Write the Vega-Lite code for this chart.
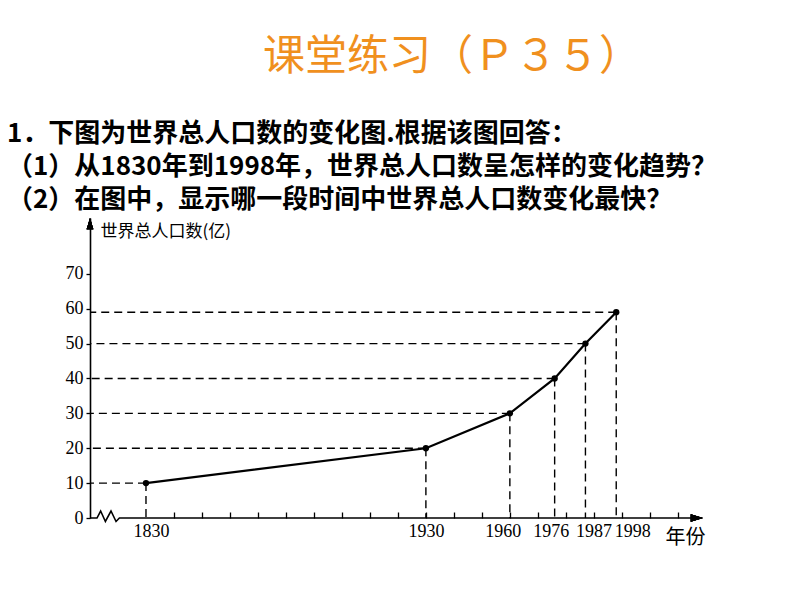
{
  "$schema": "https://vega.github.io/schema/vega-lite/v6.json",
  "background": "white",
  "padding": {"left": 7, "top": 36, "right": 5, "bottom": 5},
  "config": {"view": {"stroke": null}, "concat": {"spacing": 0}},
  "title": {
    "text": "课堂练习（Ｐ３５）",
    "anchor": "middle",
    "frame": "bounds",
    "dx": 90,
    "offset": 42,
    "font": "Noto Sans CJK SC",
    "fontSize": 42,
    "fontWeight": "normal",
    "color": "#f0901e"
  },
  "vconcat": [
    {
      "width": 613,
      "height": 300,
      "title": {
        "text": [
          "1．下图为世界总人口数的变化图.根据该图回答：",
          "（1）从1830年到1998年，世界总人口数呈怎样的变化趋势？",
          "（2）在图中，显示哪一段时间中世界总人口数变化最快？"
        ],
        "anchor": "start",
        "frame": "group",
        "dx": -83,
        "offset": 5,
        "font": "Noto Sans CJK SC",
        "fontSize": 26,
        "fontWeight": "bold",
        "lineHeight": 33,
        "color": "black"
      },
      "data": {
        "values": [
          {"year": 1830, "pop": 10},
          {"year": 1930, "pop": 20},
          {"year": 1960, "pop": 30},
          {"year": 1976, "pop": 40},
          {"year": 1987, "pop": 50},
          {"year": 1998, "pop": 59}
        ]
      },
      "encoding": {
        "x": {
          "field": "year",
          "type": "quantitative",
          "scale": {"domain": [1810, 2029], "nice": false, "zero": false},
          "axis": {
            "orient": "bottom",
            "values": [1830, 1840, 1850, 1860, 1870, 1880, 1890, 1900, 1910, 1920, 1930, 1940, 1950, 1960, 1970, 1976, 1980, 1987, 1990, 1998, 2000, 2010, 2020],
            "domain": false,
            "grid": false,
            "tickSize": -6,
            "tickColor": "black",
            "tickWidth": 1.3,
            "tickOpacity": {
              "condition": {"test": "indexof([1830,1976,1987,1998], datum.value) >= 0", "value": 0},
              "value": 1
            },
            "labelOverlap": false,
            "labelFlush": false,
            "labelPadding": 10,
            "labelFont": "Liberation Serif",
            "labelFontSize": 18,
            "labelColor": "black",
            "labelExpr": "indexof([1830,1930,1960,1976,1987,1998], datum.value) >= 0 ? datum.label : ''",
            "format": "d",
            "labelOffset": {
              "condition": [
                {"test": "datum.value == 1830", "value": 5},
                {"test": "datum.value == 1960", "value": -7},
                {"test": "datum.value == 1976", "value": -4},
                {"test": "datum.value == 1987", "value": 8},
                {"test": "datum.value == 1998", "value": 16}
              ],
              "value": 0
            },
            "title": "年份",
            "titleFont": "Noto Sans CJK SC",
            "titleFontSize": 20,
            "titleFontWeight": "normal",
            "titleColor": "black",
            "titleAlign": "center",
            "titleBaseline": "middle",
            "titleX": 595,
            "titleY": 19
          }
        },
        "y": {
          "field": "pop",
          "type": "quantitative",
          "scale": {"domain": [0, 86], "nice": false, "zero": true},
          "axis": {
            "values": [0, 10, 20, 30, 40, 50, 60, 70],
            "grid": false,
            "domainColor": "black",
            "domainWidth": 1.6,
            "tickColor": "black",
            "tickSize": 4,
            "tickWidth": 1.3,
            "labelPadding": 3,
            "labelFont": "Liberation Serif",
            "labelFontSize": 18,
            "labelColor": "black",
            "title": "世界总人口数(亿)",
            "titleAngle": 0,
            "titleAlign": "left",
            "titleBaseline": "middle",
            "titleX": 10,
            "titleY": 13,
            "titleFont": "Noto Sans CJK SC",
            "titleFontSize": 17,
            "titleFontWeight": "normal",
            "titleColor": "black"
          }
        }
      },
      "layer": [
        {
          "data": {
            "values": [
              {"year": 1810, "pop": 0, "k": 0},
              {"year": 1812.5, "pop": 0, "k": 1},
              {"year": 1813.8, "pop": 2, "k": 2},
              {"year": 1815.5, "pop": -1, "k": 3},
              {"year": 1817.5, "pop": 2, "k": 4},
              {"year": 1819.3, "pop": -1, "k": 5},
              {"year": 1820.5, "pop": 0, "k": 6},
              {"year": 2028, "pop": 0, "k": 7}
            ]
          },
          "mark": {"type": "line", "color": "black", "strokeWidth": 1.6, "clip": false},
          "encoding": {"order": {"field": "k", "type": "quantitative"}}
        },
        {
          "mark": {"type": "rule", "color": "black", "strokeWidth": 1.4, "strokeDash": [8, 5]},
          "encoding": {"x2": {"datum": 1810}}
        },
        {
          "mark": {"type": "rule", "color": "black", "strokeWidth": 1.4, "strokeDash": [8, 5]},
          "encoding": {"y2": {"datum": 0}}
        },
        {
          "mark": {"type": "line", "color": "black", "strokeWidth": 2.2}
        },
        {
          "mark": {"type": "point", "filled": true, "color": "black", "size": 40, "opacity": 1}
        },
        {
          "mark": {"type": "point", "filled": true, "color": "black", "opacity": 1, "size": 600, "shape": "M0,0 L-1,-0.3 L-1,0.3 Z"},
          "encoding": {"x": {"datum": 2029}, "y": {"datum": 0}}
        },
        {
          "mark": {"type": "point", "filled": true, "color": "black", "opacity": 1, "size": 500, "shape": "M0,0 L-0.3,1 L0.3,1 Z"},
          "encoding": {"x": {"datum": 1810}, "y": {"datum": 86}}
        }
      ]
    }
  ]
}
